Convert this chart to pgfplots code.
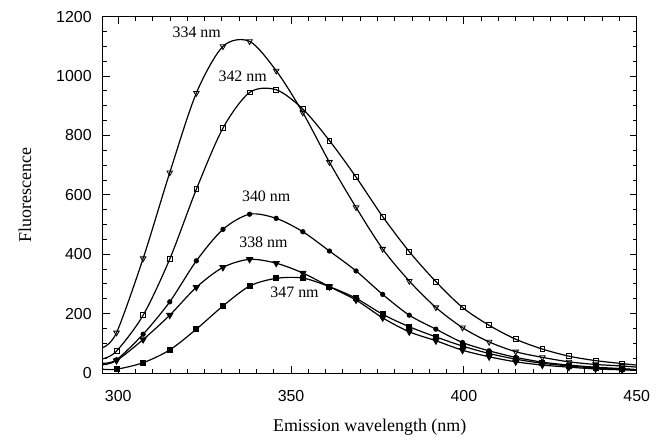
\documentclass[border=0pt]{standalone}
\usepackage{fontspec}
\setmainfont{Liberation Serif}
\newfontfamily\ticksans{Liberation Sans}
\usepackage{pgfplots}
\pgfplotsset{compat=1.18}
\usepackage{pgfplotstable}

% emission spectra, columns: wavelength, fluorescence
\pgfplotstableread{
x y
295.5 86
299.5 136
307.2 386
314.9 675
322.6 943
330.3 1100
338.0 1117
345.7 1018
353.4 877
361.1 710
368.8 558
376.5 418
384.2 310
391.9 221
399.6 153
407.3 105
415.0 72
422.7 53
430.4 38
438.1 29
445.8 24
450 20
}\tabA
\pgfplotstableread{
x y
295.5 48
299.5 74
307.2 195
314.9 384
322.6 619
330.3 825
338.0 945
345.7 954
353.4 889
361.1 783
368.8 660
376.5 527
384.2 409
391.9 308
399.6 221
407.3 161
415.0 114
422.7 81
430.4 57
438.1 42
445.8 32
450 27
}\tabB
\pgfplotstableread{
x y
295.5 33
299.5 45
307.2 131
314.9 240
322.6 378
330.3 484
338.0 535
345.7 521
353.4 476
361.1 411
368.8 344
376.5 265
384.2 195
391.9 148
399.6 103
407.3 75
415.0 53
422.7 37
430.4 27
438.1 20
445.8 15
450 12
}\tabC
\pgfplotstableread{
x y
295.5 28
299.5 42
307.2 113
314.9 195
322.6 289
330.3 356
338.0 383
345.7 370
353.4 337
361.1 291
368.8 246
376.5 186
384.2 139
391.9 109
399.6 77
407.3 55
415.0 38
422.7 27
430.4 20
438.1 14
445.8 11
450 9
}\tabD
\pgfplotstableread{
x y
295.5 13
299.5 13
307.2 35
314.9 78
322.6 148
330.3 226
338.0 293
345.7 319
353.4 320
361.1 291
368.8 252
376.5 198
384.2 156
391.9 122
399.6 91
407.3 66
415.0 47
422.7 33
430.4 24
438.1 17
445.8 13
450 11
}\tabE

\begin{document}
\begin{tikzpicture}
\begin{axis}[
    scale only axis,
    width=267bp, height=178.2bp,
    xmin=295.5, xmax=450,
    ymin=0, ymax=1200,
    xtick={300,350,400,450},
    ytick={0,200,...,1200},
    minor x tick num=9,
    minor y tick num=3,
    tick align=inside,
    major tick length=3.5bp,
    minor tick length=2bp,
    axis line style={line width=0.6bp},
    every tick/.style={black, line width=0.5bp},
    tick label style={font=\ticksans\fontsize{8}{9}\selectfont},
    /pgf/number format/assume math mode=true,
    /pgf/number format/1000 sep={},
    xticklabel style={yshift=-5bp},
    yticklabel style={xshift=-2bp},
    label style={font=\fontsize{9}{10}\selectfont},
    xlabel={Emission wavelength (nm)},
    ylabel={Fluorescence},
    xlabel style={at={(axis description cs:0.5,-0.152)}, anchor=center},
    ylabel style={at={(axis description cs:-0.1454,0.5)}, anchor=center},
    every axis plot/.append style={black, line width=0.6bp, smooth},
    clip=false,
]
\addplot[mark=triangle, mark size=1.6bp, mark indices={2,...,21},
    mark options={rotate=180, fill=white, line width=0.4bp}] table {\tabA};
\addplot[mark=square, mark size=1.2bp, mark indices={2,...,21},
    mark options={fill=white, line width=0.4bp}] table {\tabB};
\addplot[mark=*, mark size=1bp, mark indices={2,...,21}] table {\tabC};
\addplot[mark=triangle*, mark size=1.6bp, mark indices={2,...,21},
    mark options={rotate=180}] table {\tabD};
\addplot[mark=square*, mark size=1.2bp, mark indices={2,...,21}] table {\tabE};

\node[font=\fontsize{8}{9}\selectfont] at (axis cs:322.7,1147) {334 nm};
\node[font=\fontsize{8}{9}\selectfont] at (axis cs:336.0,1001) {342 nm};
\node[font=\fontsize{8}{9}\selectfont] at (axis cs:342.8,594) {340 nm};
\node[font=\fontsize{8}{9}\selectfont] at (axis cs:342.0,440) {338 nm};
\node[font=\fontsize{8}{9}\selectfont] at (axis cs:351.0,272) {347 nm};
\end{axis}
\pgfresetboundingbox
\path[use as bounding box] (-51.35bp,-32.35bp) rectangle (281.65bp,186.55bp);
\end{tikzpicture}
\end{document}
